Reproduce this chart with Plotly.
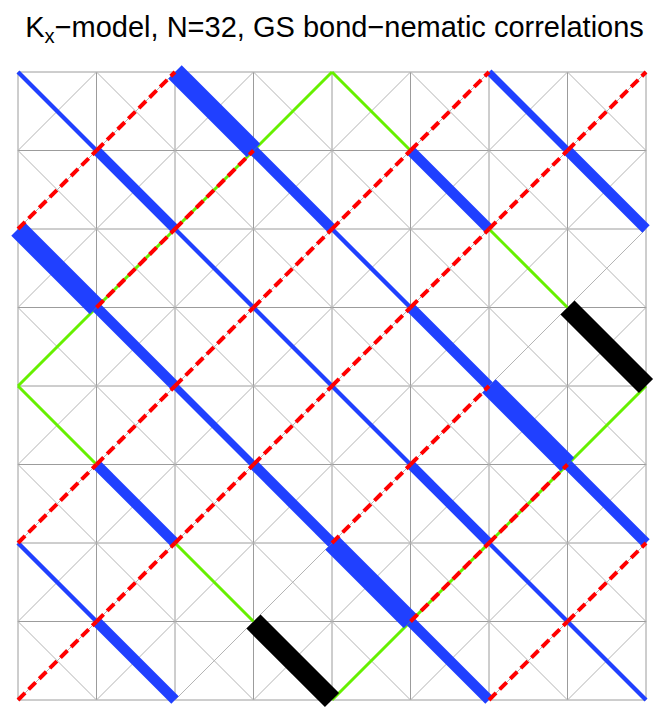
import plotly.graph_objects as go

# Cells of the 8x8 board as (column, row), rows counted from the top.
# "\" bonds (down-right diagonal of a cell)
blue_cells = [(0, 0), (1, 1), (2, 2), (3, 3), (4, 4), (5, 5), (6, 6), (7, 7),
              (2, 0), (3, 1), (4, 2), (5, 3), (6, 4), (7, 5),
              (0, 2), (1, 3), (2, 4), (3, 5), (4, 6), (5, 7),
              (5, 1), (1, 5),
              (6, 0), (7, 1),
              (0, 6), (1, 7)]
blue_values = [0.21, 0.48, 0.21, 0.21, 0.21, 0.48, 0.21, 0.21,
               0.95, 0.52, 0.22, 0.52, 0.95, 0.52,
               0.95, 0.52, 0.35, 0.52, 0.95, 0.52,
               0.52, 0.52,
               0.35, 0.52,
               0.22, 0.52]
black_cells = [(7, 3), (3, 7)]
black_values = [1.0, 1.0]
green_down_cells = [(4, 0), (6, 2), (0, 4), (2, 6)]

# "/" bonds (up-right diagonal of a cell)
green_up_cells = [(0, 3), (1, 2), (2, 1), (3, 0), (4, 7), (5, 6), (6, 5), (7, 4)]
red_cells = [(0, 1), (1, 0),
             (1, 2), (2, 1),
             (0, 5), (1, 4), (2, 3), (3, 2), (4, 1), (5, 0),
             (0, 7), (1, 6), (2, 5), (3, 4), (4, 3), (5, 2), (6, 1), (7, 0),
             (4, 5), (5, 4),
             (5, 6), (6, 5),
             (6, 7), (7, 6)]
red_values = [0.2] * len(red_cells)

N = 8
WSCALE = 20  # px of line width per unit of correlation

BLUE = '#2040ff'
GREEN = '#66f000'
RED = '#ff0000'


def down(c):
    i, r = c
    return [i, i + 1], [N - r, N - 1 - r]


def up(c):
    i, r = c
    return [i, i + 1], [N - 1 - r, N - r]


fig = go.Figure()

# background lattice: squares
gx, gy = [], []
for k in range(N + 1):
    gx += [k, k, None, 0, N, None]
    gy += [0, N, None, k, k, None]
fig.add_trace(go.Scatter(x=gx, y=gy, mode='lines',
                         line=dict(color='#9c9c9c', width=1), hoverinfo='skip'))

# background lattice: cell diagonals
dx, dy = [], []
for i in range(N):
    for r in range(N):
        for f in (down, up):
            xs, ys = f((i, r))
            dx += xs + [None]
            dy += ys + [None]
fig.add_trace(go.Scatter(x=dx, y=dy, mode='lines',
                         line=dict(color='#b4b4b4', width=1), hoverinfo='skip'))


def bond(cells, f, color, width, dash='solid'):
    xs, ys = [], []
    for c in cells:
        a, b = f(c)
        xs += a + [None]
        ys += b + [None]
    fig.add_trace(go.Scatter(x=xs, y=ys, mode='lines',
                             line=dict(color=color, width=width, dash=dash),
                             hoverinfo='skip'))


bond(green_down_cells, down, GREEN, 3)
bond(green_up_cells, up, GREEN, 3)

for c, v in zip(blue_cells, blue_values):
    bond([c], down, BLUE, v * WSCALE)

for c, v in zip(black_cells, black_values):
    bond([c], down, 'black', v * WSCALE)

for c, v in zip(red_cells, red_values):
    bond([c], up, RED, v * WSCALE, dash='10px,5px')

# the page body adds an 8px offset, so the figure is 8px smaller each way
W, H = 656, 703
cell = 78.5
x0 = -10 / cell
y1 = N + 16 / cell
fig.update_layout(
    width=W, height=H,
    margin=dict(l=0, r=0, t=48, b=0),
    paper_bgcolor='white', plot_bgcolor='white',
    showlegend=False,
    title=dict(text='K<sub>x</sub>−model, N=32, GS bond−nematic correlations',
               font=dict(family='Liberation Sans, Arial, sans-serif', size=29, color='black'),
               x=326.5 / W, xanchor='center', xref='container',
               y=1 - 9 / H, yanchor='top', yref='container'),
    xaxis=dict(visible=False, range=[x0, x0 + W / cell], fixedrange=True),
    yaxis=dict(visible=False, range=[y1 - (H - 48) / cell, y1], fixedrange=True),
)

fig.write_html("out.html")
